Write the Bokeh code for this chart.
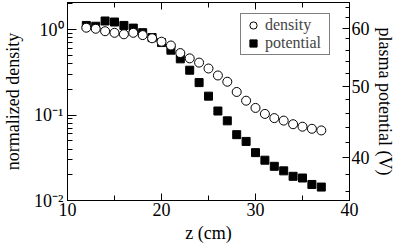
from bokeh.plotting import figure
from bokeh.models import (LinearAxis, Range1d, SingleIntervalTicker, FixedTicker,
                          Legend, LegendItem, CustomJSTickFormatter)
from bokeh.embed import file_html
from bokeh.resources import INLINE

# ---- data ----
z = [12, 13, 14, 15, 16, 17, 18, 19, 20, 21, 22, 23, 24, 25,
     26, 27, 28, 29, 30, 31, 32, 33, 34, 35, 36, 37]
density = [1.05, 1.02, 0.955, 0.915, 0.88, 0.915, 0.86, 0.79, 0.72, 0.65,
           0.53, 0.46, 0.41, 0.35, 0.29, 0.245, 0.186, 0.147, 0.121, 0.103,
           0.092, 0.086, 0.078, 0.073, 0.069, 0.066]
potential = [60.5, 60.35, 61.35, 61.15, 60.5, 60.0, 59.15, 58.25, 57.35, 56.0,
             54.5, 52.6, 50.6, 48.5, 46.3, 44.9, 43.0, 42.1, 40.65, 39.7,
             38.95, 38.4, 37.75, 37.55, 36.8, 36.5]

density_tick_values = [0.01, 0.1, 1.0]
density_tick_labels = ["10\u207b\u00b2", "10\u207b\u00b9", "10\u2070"]
legend_labels = ["density", "potential"]
x_label = "z (cm)"
left_label = "normalized density"
right_label = "plasma potential (V)"

FONT = "Liberation Serif"

p = figure(width=397, height=246, output_backend="svg", toolbar_location=None,
           y_axis_type="log", x_range=(10, 40), y_range=(0.01, 2.07),
           min_border_left=65, min_border_right=47, min_border_top=2,
           min_border_bottom=46)
p.extra_y_ranges = {"pot": Range1d(35, 65)}

p.xgrid.visible = False
p.ygrid.visible = False
p.outline_line_color = "black"
p.outline_line_width = 1
p.outline_line_alpha = 1
p.background_fill_color = "white"
p.border_fill_color = "white"

def style(ax, major_in=8, minor_in=5):
    ax.axis_line_color = "black"
    ax.major_tick_line_color = "black"
    ax.minor_tick_line_color = "black"
    ax.major_tick_in = major_in
    ax.major_tick_out = 0
    ax.minor_tick_in = minor_in
    ax.minor_tick_out = 0
    ax.major_label_text_font = FONT
    ax.major_label_text_font_size = "18px"
    ax.major_label_text_color = "black"
    ax.axis_label_text_font = FONT
    ax.axis_label_text_font_size = "18px"
    ax.axis_label_text_font_style = "normal"
    ax.axis_label_text_color = "black"

# bottom axis
xa = p.xaxis[0]
xa.ticker = SingleIntervalTicker(interval=10, num_minor_ticks=2)
style(xa, 7, 5)
xa.axis_label = x_label
xa.major_label_standoff = 2
xa.axis_label_standoff = 4

# top axis (ticks only, no labels)
ta = LinearAxis(ticker=SingleIntervalTicker(interval=10, num_minor_ticks=2),
                formatter=CustomJSTickFormatter(code="return ''"))
style(ta, 7, 5)
ta.major_label_standoff = 0
ta.major_label_text_font_size = "1px"
p.add_layout(ta, "above")

# left log axis
minor = [m * d for d in density_tick_values for m in range(2, 10)]
ya = p.yaxis[0]
ya.ticker = FixedTicker(ticks=density_tick_values, minor_ticks=minor)
ya.major_label_overrides = dict(zip(density_tick_values, density_tick_labels))
style(ya, 9, 5)
ya.axis_label = left_label
ya.major_label_standoff = 4
ya.axis_label_standoff = 8

# right potential axis
ra = LinearAxis(y_range_name="pot",
                ticker=SingleIntervalTicker(interval=10, num_minor_ticks=5))
style(ra, 7, 4)
ra.axis_label = right_label
ra.major_label_standoff = 2
ra.axis_label_standoff = 2
p.add_layout(ra, "right")

# marks (squares below circles)
sq = p.scatter(z, potential, marker="square", size=8, fill_color="black",
               line_color="black", y_range_name="pot")
ci = p.scatter(z, density, marker="circle", size=9, fill_color="white",
               line_color="black", line_width=1)

legend = Legend(items=[LegendItem(label=legend_labels[0], renderers=[ci]),
                       LegendItem(label=legend_labels[1], renderers=[sq])],
                location=(173, 145))
legend.border_line_color = "black"
legend.border_line_width = 1
legend.background_fill_color = "white"
legend.background_fill_alpha = 1
legend.label_text_font = FONT
legend.label_text_font_size = "16px"
legend.glyph_width = 20
legend.glyph_height = 18
legend.label_height = 18
legend.label_width = 62
legend.label_standoff = 2
legend.padding = 2
legend.spacing = 0
legend.margin = 0
p.add_layout(legend)

open("out.html", "w").write(file_html(p, INLINE))
